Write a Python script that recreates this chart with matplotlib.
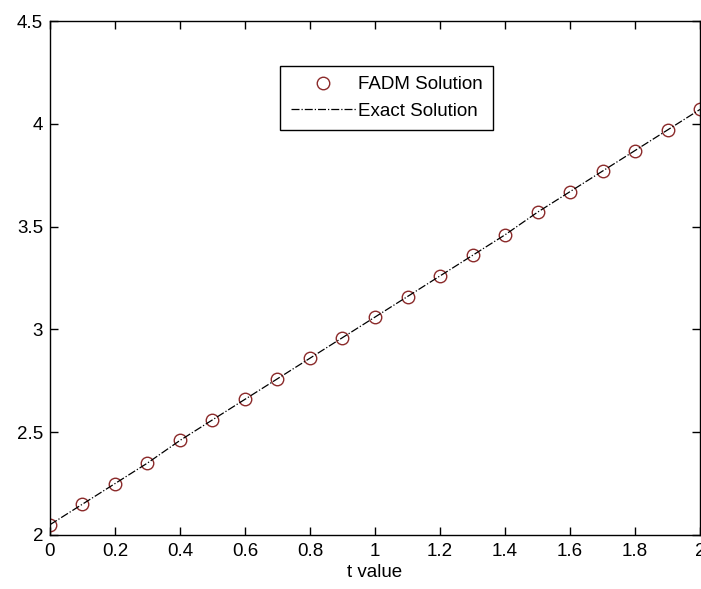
import numpy as np
import matplotlib
matplotlib.use("Agg")
import matplotlib.pyplot as plt

# values
t_vals = [0.0, 0.1, 0.2, 0.3, 0.4, 0.5, 0.6, 0.7, 0.8, 0.9, 1.0,
          1.1, 1.2, 1.3, 1.4, 1.5, 1.6, 1.7, 1.8, 1.9, 2.0]
fadm_vals = [2.05, 2.15, 2.25, 2.35, 2.46, 2.56, 2.66, 2.76, 2.86, 2.96, 3.06,
             3.16, 3.26, 3.36, 3.46, 3.57, 3.67, 3.77, 3.87, 3.97, 4.07]
exact_vals = [2.05, 2.15, 2.25, 2.35, 2.46, 2.56, 2.66, 2.76, 2.86, 2.96, 3.06,
              3.16, 3.26, 3.36, 3.46, 3.57, 3.67, 3.77, 3.87, 3.97, 4.07]

x_ticks = [0, 0.2, 0.4, 0.6, 0.8, 1, 1.2, 1.4, 1.6, 1.8, 2]
x_tick_labels = ["0", "0.2", "0.4", "0.6", "0.8", "1", "1.2", "1.4", "1.6", "1.8", "2"]
y_ticks = [2, 2.5, 3, 3.5, 4, 4.5]
y_tick_labels = ["2", "2.5", "3", "3.5", "4", "4.5"]

plt.rcParams["font.family"] = ["Liberation Sans", "DejaVu Sans"]

fig = plt.figure(figsize=(7.01, 5.89), dpi=100)
ax = fig.add_axes([0.0713, 0.0917, 0.9273, 0.8726])

ax.plot(t_vals, fadm_vals, linestyle="none", marker="o", markersize=9,
        markerfacecolor="none", markeredgecolor="#8b2a2a", markeredgewidth=1.0,
        label="FADM Solution")
ax.plot(t_vals, exact_vals, linestyle="-.", color="black", linewidth=0.9,
        label="Exact Solution")

ax.set_xlim(0, 2)
ax.set_ylim(2, 4.5)
ax.set_xticks(x_ticks)
ax.set_xticklabels(x_tick_labels)
ax.set_yticks(y_ticks)
ax.set_yticklabels(y_tick_labels)
ax.tick_params(direction="in", length=6, width=1, top=True, right=True,
               labelsize=13.5)
ax.tick_params(axis="x", pad=6)
ax.tick_params(axis="y", pad=5)
for spine in ax.spines.values():
    spine.set_linewidth(1.0)

ax.set_xlabel("t value", fontsize=13.5, labelpad=3)

leg = ax.legend(loc="upper center", bbox_to_anchor=(0.518, 0.913),
                fontsize=13.5, fancybox=False, framealpha=1, edgecolor="black",
                handlelength=3.5, handletextpad=0.1, borderpad=0.55,
                labelspacing=0.5, borderaxespad=0)
leg.get_frame().set_linewidth(1.0)

fig.savefig("out.png", dpi=100)
